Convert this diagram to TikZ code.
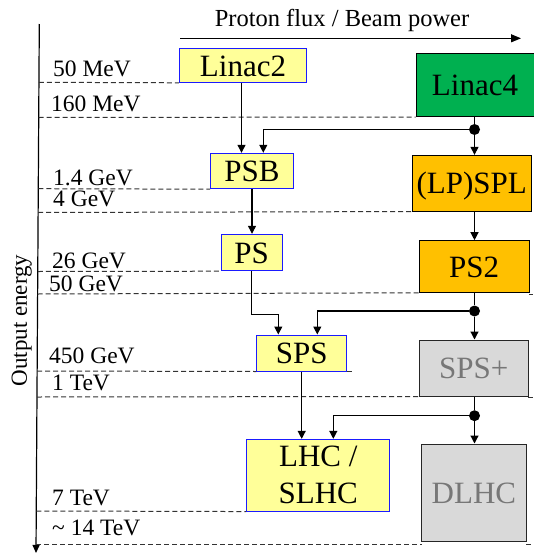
\documentclass[tikz,border=0pt]{standalone}
\usepackage{fontspec}
\setmainfont{Liberation Serif}
\usetikzlibrary{arrows.meta}
\definecolor{boxyellow}{HTML}{FFFF99}
\definecolor{boxblue}{HTML}{1A1AFF}
\definecolor{lfgreen}{HTML}{00B050}
\definecolor{splorange}{HTML}{FFC000}
\definecolor{futgray}{HTML}{D9D9D9}
\definecolor{futtext}{HTML}{777777}
\begin{document}
\begin{tikzpicture}[x=1pt,y=-1pt,
  conn/.style={line width=1.2pt, draw=black, -{Triangle[length=8pt,width=8pt]}},
  plain/.style={line width=1.2pt, draw=black},
  level/.style={draw=black!80, line width=1pt, dash pattern=on 5pt off 3pt},
  lab/.style={anchor=base west, inner sep=0pt, font=\fontsize{23.5}{28}\selectfont},
  box/.style={inner sep=0pt, font=\fontsize{31}{36.7}\selectfont, line width=1pt},
  tb/.style={text height=21pt, text depth=0pt},
  ybox/.style={box, fill=boxyellow, draw=boxblue},
  obox/.style={box, tb, fill=splorange, draw=black},
  gbox/.style={box, tb, fill=futgray, draw=black!85, text=futtext},
  dotnode/.style={circle, fill=black, inner sep=0pt, minimum size=11pt}]
\useasboundingbox (0,0) rectangle (533,554);
\fill[white] (0,0) rectangle (533,554);

% title and axes
\node[anchor=base, inner sep=0pt, font=\fontsize{24.5}{29}\selectfont] (flux) at (342,26) {Proton flux / Beam power};
\coordinate (fluxL) at (180,38.3);
\coordinate (fluxR) at (521,38.3);
\draw[line width=1.1pt, -{Triangle[length=10pt,width=8pt]}] (fluxL) -- (fluxR);
\coordinate (axtop) at (39.3,24);
\coordinate (axbot) at (36,553);
\draw[line width=1.2pt, -{Triangle[length=8pt,width=7pt]}] (axtop) -- (axbot);
\node[rotate=90, anchor=base, inner sep=0pt, font=\fontsize{23}{28}\selectfont] (oe) at (27,320.5) {Output energy};

% boxes
\node[ybox,tb,minimum width=127.4pt,minimum height=33.6pt] (linac2) at (243,65.5) {Linac2};
\node[box,tb,fill=lfgreen,draw=black,minimum width=118pt,minimum height=63pt] (linac4) at (475,85) {Linac4};
\node[ybox,tb,minimum width=82.6pt,minimum height=35.4pt] (psb) at (252,171) {PSB};
\node[obox,minimum width=118.7pt,minimum height=55.7pt] (lpspl) at (471.7,183.2) {(LP)SPL};
\node[ybox,tb,minimum width=61.3pt,minimum height=36.4pt] (ps) at (251.7,252.5) {PS};
\node[obox,minimum width=109.7pt,minimum height=51.6pt] (ps2) at (474.2,266.5) {PS2};
\node[ybox,tb,minimum width=90pt,minimum height=36pt] (sps) at (301.7,353) {SPS};
\node[gbox,minimum width=108.7pt,minimum height=56pt] (spsp) at (473.7,368) {SPS+};
\node[ybox,align=center,minimum width=143.3pt,minimum height=71.7pt] (lhc) at (318.3,475.2) {LHC /\\SLHC};
\node[gbox,minimum width=104.3pt,minimum height=97pt] (dlhc) at (473.9,492.5) {DLHC};

% energy levels
\draw[level] (38.9,82.3) -- (linac2.south west);
\draw[level] (38.7,117.5) -- (linac4.south west);
\draw[level] (38.3,188.7) -- (psb.south west);
\draw[level] (38.1,212.5) -- (lpspl.south west);
\draw[level] (37.8,271.5) -- (ps.south west);
\draw[level] (37.6,294) -- (ps2.south west);
\draw[level] (37.1,371) -- (sps.south west);
\draw[level] (346.7,371) -- (351.7,371);
\draw[level] (37.0,397) -- (spsp.south west);
\draw[level] (36.3,511) -- (lhc.south west);
\draw[level] (36.1,544.5) -- (421.7,544.5);
\draw[level] (526,544.5) -- (533,544.5);
\draw[level] (528,397) -- (533,397);
\draw[level] (529,294) -- (533,294);

\node[lab] (e1) at (53,76) {50 MeV};
\node[lab] (e2) at (51,111) {160 MeV};
\node[lab] (e3) at (53,185) {1.4 GeV};
\node[lab] (e4) at (53,206.5) {4 GeV};
\node[lab] (e5) at (52,268) {26 GeV};
\node[lab] (e6) at (49,291.7) {50 GeV};
\node[lab] (e7) at (49,363.3) {450 GeV};
\node[lab] (e8) at (52,390) {1 TeV};
\node[lab] (e9) at (52,505) {7 TeV};
\node[lab] (e10) at (52,535) {\textasciitilde{} 14 TeV};

% junction dots
\node[dotnode] (d1) at (474.5,129.5) {};
\node[dotnode] (d2) at (474.5,311) {};
\node[dotnode] (d3) at (474.5,415.7) {};

% connectors
\draw[plain] (d1 |- linac4.south) -- (d1);
\draw[conn] (d1) -- (d1 |- lpspl.north);
\draw[conn] (d1) -| ([xshift=11.3pt]psb.north);
\draw[conn] ([xshift=-1.5pt]linac2.south) -- ([xshift=-10.5pt]psb.north);
\draw[conn] (psb.south) -- (psb.south |- ps.north);
\draw[conn] (d1 |- lpspl.south) -- (d1 |- ps2.north);
\draw[plain] (d2 |- ps2.south) -- (d2);
\draw[conn] (d2) -- (d2 |- spsp.north);
\draw[conn] (d2) -| ([xshift=15.6pt]sps.north);
\coordinate (k1) at (278.3,314.3);
\draw[conn] (ps.south) |- (k1) -- (k1 |- sps.north);
\draw[conn] (sps.south) -- (sps.south |- lhc.north);
\draw[plain] (d3 |- spsp.south) -- (d3);
\draw[conn] (d3) -- (d3 |- dlhc.north);
\draw[conn] (d3) -| ([xshift=15pt]lhc.north);
\end{tikzpicture}
\end{document}
